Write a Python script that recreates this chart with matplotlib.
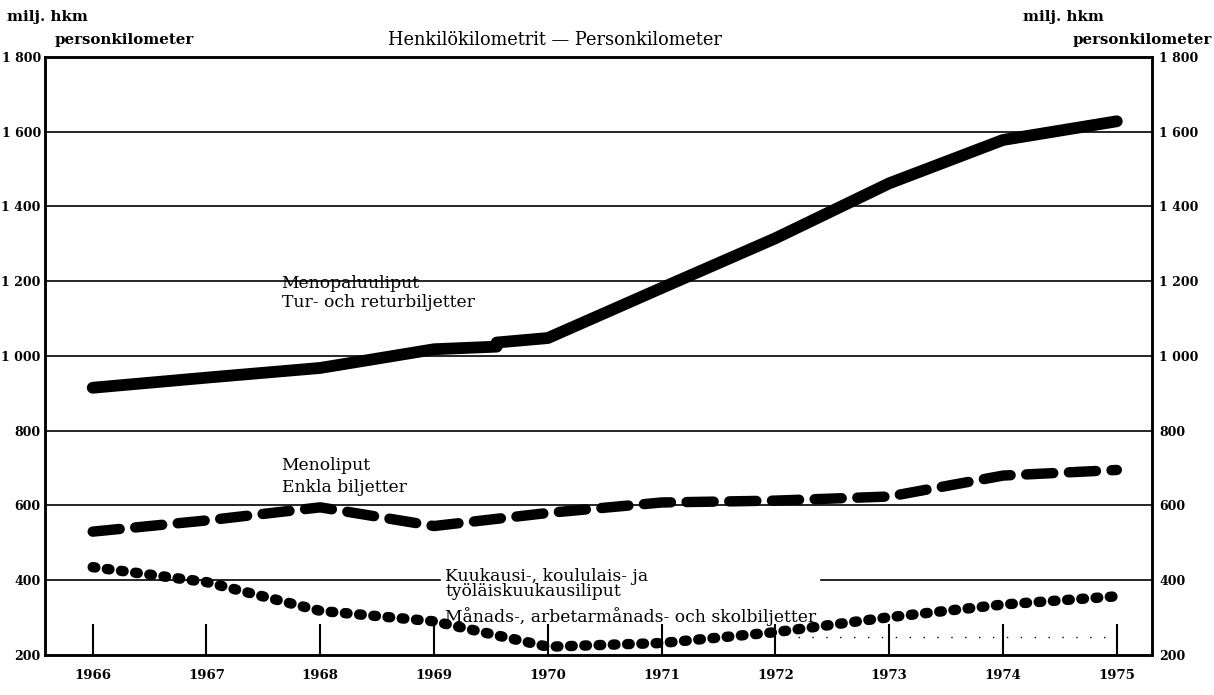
import matplotlib.pyplot as plt

# --- data (milj. henkilökilometriä / personkilometer) ---
years = [1966, 1967, 1968, 1969, 1970, 1971, 1972, 1973, 1974, 1975]

# Menopaluuliput / Tur- och returbiljetter (small step drawn just before 1970)
return_x = [1966, 1967, 1968, 1969, 1969.55, 1969.55, 1970, 1971, 1972, 1973, 1974, 1975]
return_y = [915, 942, 968, 1018, 1025, 1036, 1048, 1182, 1315, 1462, 1578, 1628]

# Menoliput / Enkla biljetter
single = [530, 560, 595, 545, 580, 608, 613, 624, 680, 695]

# Kuukausi-, koululais- ja työläiskuukausiliput / Månads-, arbetarmånads- och skolbiljetter
monthly = [435, 395, 318, 290, 222, 232, 261, 301, 335, 357]

yticks = [200, 400, 600, 800, 1000, 1200, 1400, 1600, 1800]
ytick_labels = ["200", "400", "600", "800", "1 000", "1 200", "1 400", "1 600", "1 800"]

plt.rcParams['font.family'] = ['DejaVu Serif']

fig = plt.figure(figsize=(12.14, 6.95), dpi=100)
ax = fig.add_axes([0.037, 0.0576, 0.912, 0.8604])

ax.set_xlim(1965.58, 1975.31)
ax.set_ylim(200, 1800)

# gridlines (400 line broken by the label)
for v in yticks[1:-1]:
    if v == 400:
        ax.plot([1965.58, 1969.05], [v, v], color='black', lw=1.2, zorder=1)
        ax.plot([1972.4, 1975.31], [v, v], color='black', lw=1.2, zorder=1)
    else:
        ax.axhline(v, color='black', lw=1.2, zorder=1)
# faint dotted rule near the bottom right
ax.plot([1972.2, 1974.9], [248, 248], color='black', lw=1.0,
        linestyle=(0, (1, 9)), zorder=1)

# series
ax.plot(return_x, return_y, color='black', lw=8.5, solid_capstyle='round',
        solid_joinstyle='round', zorder=3)
ax.plot(years, single, color='black', lw=7.5, dash_capstyle='round',
        linestyle=(0, (2.6, 1.5)), zorder=3)
ax.plot(years, monthly, color='black', lw=7.5, dash_capstyle='round',
        linestyle=(0, (0.25, 1.12)), zorder=3)

# labels
tkw = dict(fontsize=12.3, va='center', ha='left', zorder=4)
ax.text(1967.66, 1195, "Menopaluuliput", **tkw)
ax.text(1967.66, 1144, "Tur- och returbiljetter", **tkw)
ax.text(1967.66, 708, "Menoliput", **tkw)
ax.text(1967.66, 647, "Enkla biljetter", **tkw)
ax.text(1969.1, 390, "Kuukausi-, koululais- ja\ntyöläiskuukausiliput",
        fontsize=12.3, va='center', ha='left', linespacing=0.85, zorder=4)
ax.text(1969.1, 304, "Månads-, arbetarmånads- och skolbiljetter", **tkw)

# axes
for s in ax.spines.values():
    s.set_linewidth(1.8)
    s.set_color('black')

ax.set_xticks(years)
ax.set_xticklabels([str(y) for y in years], fontsize=9.5, fontweight='bold')
ax.tick_params(axis='x', direction='in', length=22, width=1.5, pad=10)

ax.set_yticks(yticks)
ax.set_yticklabels(ytick_labels, fontsize=9, fontweight='bold')
ax.tick_params(axis='y', length=0, pad=3)

ax2 = ax.twinx()
ax2.set_ylim(200, 1800)
ax2.set_yticks(yticks)
ax2.set_yticklabels(ytick_labels, fontsize=9, fontweight='bold')
ax2.tick_params(axis='y', length=0, pad=5)
for s in ax2.spines.values():
    s.set_linewidth(1.8)

# header texts
fig.text(0.457, 0.943, "Henkilökilometrit — Personkilometer", fontsize=12.8,
         ha='center', va='center')
fig.text(0.006, 0.976, "milj. hkm", fontsize=10.8, fontweight='bold',
         ha='left', va='center')
fig.text(0.045, 0.943, "personkilometer", fontsize=10.8, fontweight='bold',
         ha='left', va='center')
fig.text(0.843, 0.976, "milj. hkm", fontsize=10.8, fontweight='bold',
         ha='left', va='center')
fig.text(0.998, 0.943, "personkilometer", fontsize=10.8, fontweight='bold',
         ha='right', va='center')

fig.savefig("out.png", dpi=100)
